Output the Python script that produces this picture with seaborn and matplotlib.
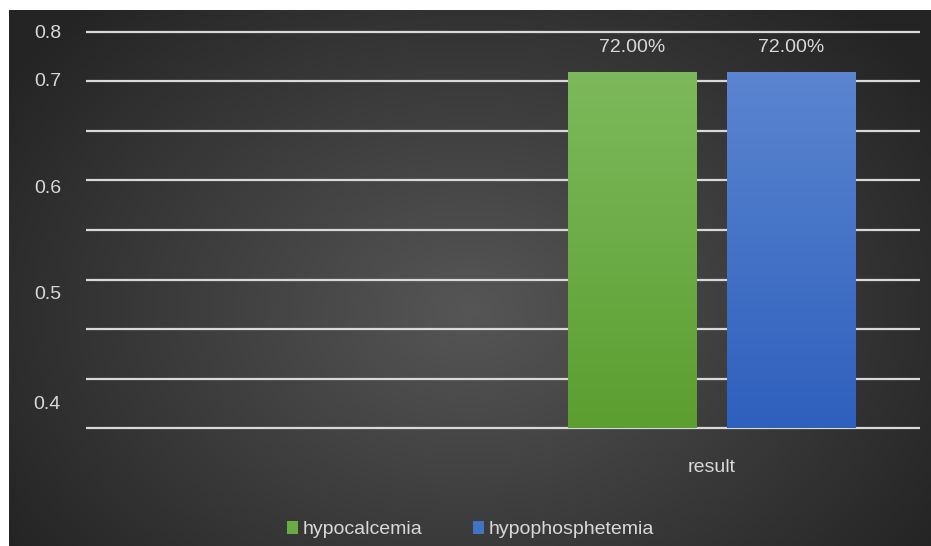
import numpy as np
import pandas as pd
import matplotlib
matplotlib.use("Agg")
import matplotlib.pyplot as plt
import seaborn as sns

# data
categories = ["", "result"]
series_names = ["hypocalcemia", "hypophosphetemia"]
hypocalcemia = [0.72]
hypophosphetemia = [0.72]
series_colors = ["#6aab44", "#4472c4"]
# top / bottom shades of each bar gradient
bar_shades = [("#7db95c", "#5c9e30"), ("#5b85d0", "#2e60bd")]

# y labels as they sit in the picture (the original labels are shifted)
ytick_labels = ["0.8", "0.7", "0.6", "0.5", "0.4"]
ytick_pos = [0.800, 0.705, 0.487, 0.273, 0.051]
grid_values = np.arange(0, 0.81, 0.1)

df = pd.DataFrame({
    "category": ["result", "result"],
    "series": series_names,
    "value": hypocalcemia + hypophosphetemia,
})

sns.set_theme(style="white")
plt.rcParams["font.family"] = ["Liberation Sans Narrow", "Liberation Sans", "DejaVu Sans"]
txt = "#d9d9d9"

fig = plt.figure(figsize=(9.31, 5.46), dpi=100, facecolor="white")

# radial gradient background
bg = fig.add_axes([9 / 931, 0, 1 - 9 / 931, 1 - 10 / 546], zorder=0)
h, w = 536, 922
yy, xx = np.mgrid[0:h, 0:w]
r = np.sqrt(((xx - 460) / 560.0) ** 2 + ((yy - 300) / 420.0) ** 2)
r = np.clip(r, 0, 1)
inner = np.array([0x56, 0x56, 0x56]) / 255
outer = np.array([0x24, 0x24, 0x24]) / 255
img = inner[None, None, :] * (1 - r[..., None]) + outer[None, None, :] * r[..., None]
bg.imshow(img, aspect="auto", interpolation="bilinear")
bg.axis("off")

ax = fig.add_axes([86 / 931, 1 - 430 / 546, (920 - 86) / 931, (430 - 30) / 546], zorder=1)
ax.patch.set_alpha(0)

sns.barplot(data=df, x="category", y="value", hue="series", order=categories,
            hue_order=series_names, palette=series_colors, width=0.76, gap=0.19,
            saturation=1, linewidth=0, ax=ax, zorder=3)

ax.set_ylim(-0.004, 0.804)
xlim = ax.get_xlim()
for g in grid_values:
    ax.axhline(g, color=txt, lw=1.6, zorder=1)

# vertical gradient fill on each bar
for cont, (top, bottom) in zip(ax.containers, bar_shades):
    c_top = np.array(matplotlib.colors.to_rgb(top))
    c_bot = np.array(matplotlib.colors.to_rgb(bottom))
    t = np.linspace(0, 1, 100)[:, None]
    grad = (c_top * (1 - t) + c_bot * t)[:, None, :]
    for bar in cont:
        x0, y0 = bar.get_x(), bar.get_y()
        x1, y1 = x0 + bar.get_width(), y0 + bar.get_height()
        im = ax.imshow(grad, extent=[x0, x1, y0, y1], aspect="auto",
                       origin="upper", zorder=3.5)
        im.set_clip_path(bar)
ax.set_xlim(xlim)
ax.set_ylim(-0.004, 0.804)

ax.set_yticks(ytick_pos)
ax.set_yticklabels(ytick_labels)
ax.tick_params(axis="y", length=0, pad=18, labelsize=14, labelcolor=txt)
ax.tick_params(axis="x", length=0, pad=21, labelsize=14, labelcolor=txt)
ax.set_xlabel("")
ax.set_ylabel("")
for s in ax.spines.values():
    s.set_visible(False)

for cont in ax.containers:
    ax.bar_label(cont, fmt=lambda v: f"{v * 100:.2f}%", padding=11,
                 fontsize=14, color=txt)

sns.move_legend(ax, "lower center", bbox_to_anchor=(0.505, -0.018),
                bbox_transform=fig.transFigure, ncol=2, frameon=False,
                title=None, fontsize=14, labelcolor=txt, handlelength=0.6,
                handleheight=0.6, handletextpad=0.2, columnspacing=2.6)

fig.savefig("out.png", dpi=100)
